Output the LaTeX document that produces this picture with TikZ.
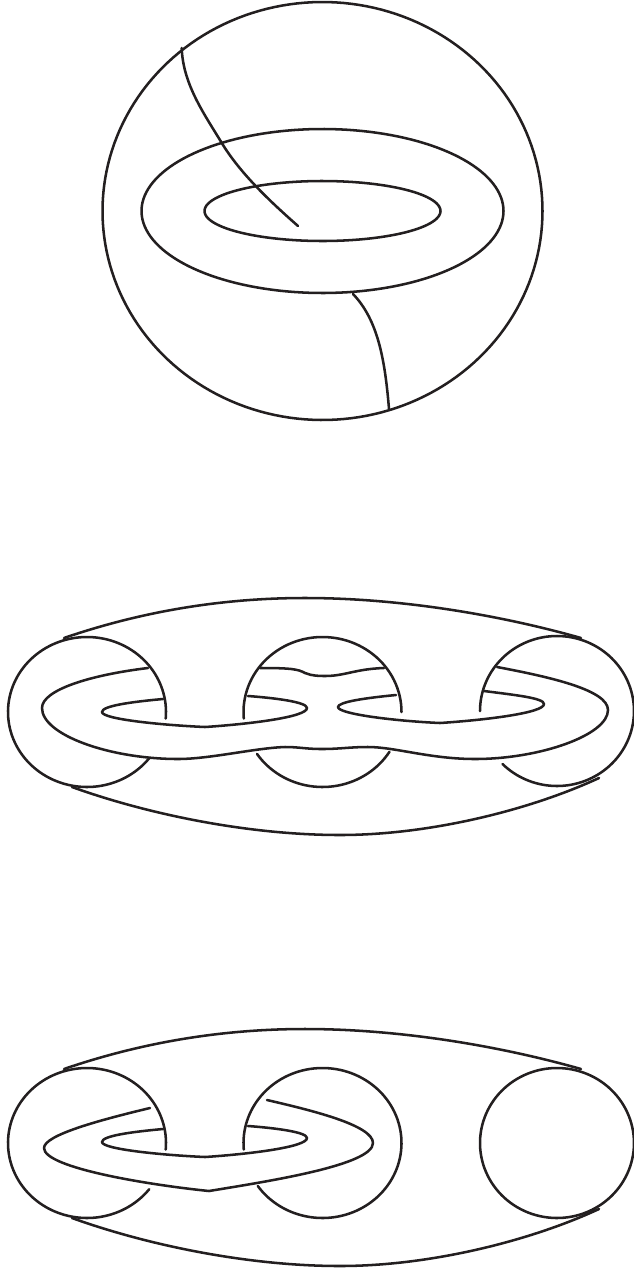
\documentclass[tikz,border=0pt]{standalone}
\usepackage{tikz}
\definecolor{knotink}{RGB}{35,31,32}
\begin{document}
\begin{tikzpicture}[strand/.style={color=knotink, line width=1.9pt, line cap=round, line join=round}, x=0.75pt, y=-0.75pt]
			\useasboundingbox (0,0) rectangle (633,1268);
			% Kugel mit Torus
			\draw[strand,domain=0:360,samples=180] plot ({322.5+220*cos(\x)},{211+209*sin(\x)});
			\draw[strand,domain=0:360,samples=150] plot ({322.5+181*cos(\x)},{211+82*sin(\x)});
			\draw[strand,domain=0:360,samples=120] plot ({322.5+118*cos(\x)},{211+30*sin(\x)});
			\draw[strand] (181.7,48) .. controls (183,85) and (205,115) .. (223,145) .. controls (240,172) and (265,197) .. (298,226);
			\draw[strand] (353,294) .. controls (378,320) and (385,360) .. (389,409);
			% Kreise Mitte
			\draw[strand,domain=5:-322,samples=120] plot ({87+79*cos(\x)},{712+75*sin(\x)});
			\draw[strand,domain=175:360,samples=60] plot ({322.5+79*cos(\x)},{712+75*sin(\x)});
			\draw[strand,domain=146:32,samples=40] plot ({322.5+79*cos(\x)},{712+75*sin(\x)});
			\draw[strand,domain=180:495,samples=120] plot ({557+77*cos(\x)},{711+75*sin(\x)});
			% Band Mitte
			\draw[strand] (148,668) .. controls (90,675) and (42,690) .. (42,708) .. controls (42,735) and (110,759) .. (178,759)
				.. controls (210,759) and (255,748) .. (285,747) .. controls (300,747) and (305,749) .. (322,749)
				.. controls (340,749) and (350,747) .. (368,747) .. controls (395,747) and (430,759) .. (475,759)
				.. controls (540,759) and (608,735) .. (608,710) .. controls (608,690) and (550,677) .. (497,667);
			\draw[strand] (260,668) .. controls (290,668) and (298,669) .. (305,673) .. controls (312,676) and (320,676) .. (325,676)
				.. controls (345,676) and (355,669) .. (384,668);
			\draw[strand] (163,699) .. controls (130,702) and (102,706) .. (102,712) .. controls (102,719) and (160,725) .. (205,727)
				.. controls (250,724) and (307,717) .. (307,708) .. controls (307,702) and (275,698) .. (248,696);
			\draw[strand] (396,695) .. controls (365,698) and (338,702) .. (338,707) .. controls (338,714) and (395,721) .. (440,723)
				.. controls (485,720) and (544,713) .. (544,704) .. controls (544,698) and (515,695) .. (484,691);
			% Kreise unten
			\draw[strand,domain=5:-322,samples=120] plot ({87+79*cos(\x)},{1143+75*sin(\x)});
			\draw[strand,domain=175:505,samples=120] plot ({322.5+79*cos(\x)},{1143+75*sin(\x)});
			\draw[strand,domain=0:360,samples=120] plot ({557+77*cos(\x)},{1143+75*sin(\x)});
			% Band unten
			\draw[strand] (150,1108) .. controls (100,1120) and (44,1135) .. (44,1148) .. controls (44,1168) and (150,1185) .. (209,1191)
				.. controls (270,1181) and (373,1165) .. (373,1143) .. controls (373,1125) and (310,1110) .. (267,1100);
			\draw[strand] (163,1129) .. controls (130,1132) and (102,1136) .. (102,1142) .. controls (102,1149) and (160,1155) .. (205,1157)
				.. controls (250,1154) and (307,1147) .. (307,1138) .. controls (307,1132) and (275,1128) .. (248,1126);
			% Huellkurven
			\foreach \h in {0,431} {
				\begin{scope}[shift={(0,\h)}]
					\draw[strand] (64,638) .. controls (140,612) and (220,598) .. (305,598) .. controls (400,598) and (500,615) .. (581,638);
					\draw[strand] (72,787) .. controls (150,815) and (250,835) .. (340,835) .. controls (430,835) and (530,810) .. (599,778);
				\end{scope}
			}
		\end{tikzpicture}
\end{document}
